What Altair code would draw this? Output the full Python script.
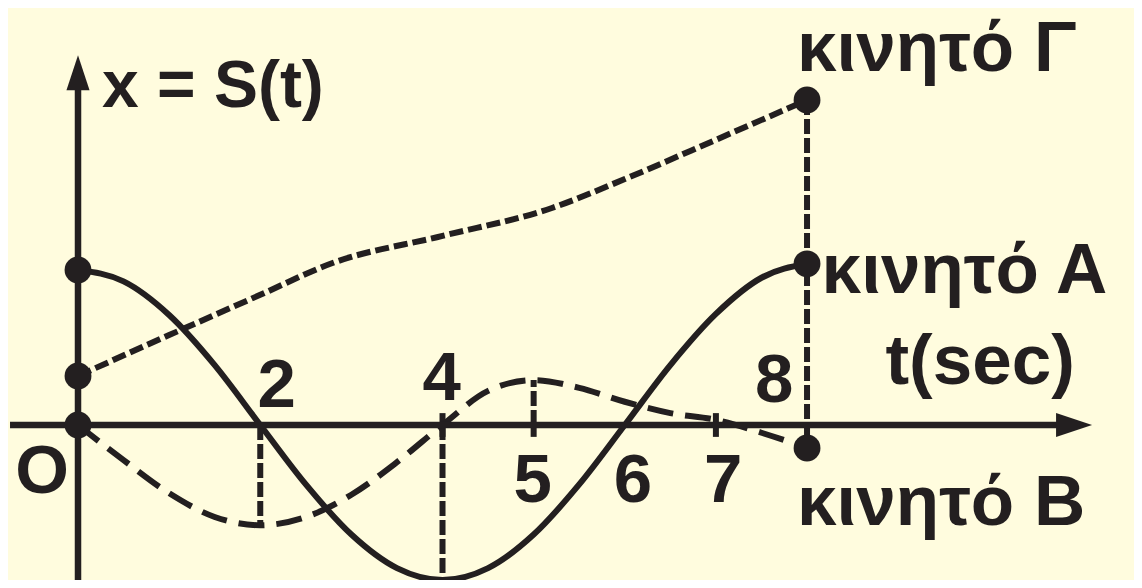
import altair as alt
import pandas as pd

# ---------------- data ----------------
t_samples = [0, 0.5, 1, 1.5, 2, 2.5, 3, 3.5, 4, 4.5, 5, 5.5, 6, 6.5, 7, 7.5, 8]
pos_A = [3.0, 2.78, 2.13, 1.16, 0.0, -1.15, -2.12, -2.77, -3.0, -2.77, -2.12, -1.15, 0.0, 1.16, 2.15, 2.85, 3.12]
pos_B = [0.0, -0.68, -1.32, -1.78, -1.94, -1.78, -1.35, -0.72, 0.0, 0.66, 0.87, 0.72, 0.45, 0.23, 0.1, -0.15, -0.445]

t_G = [0, 1, 2, 2.8, 4, 5.2, 6, 7, 8]
pos_G = [0.95, 1.74, 2.52, 3.14, 3.66, 4.2, 4.76, 5.52, 6.29]

dot_t = [0, 0, 0, 8, 8, 8]
dot_v = [3.0, 0.95, 0.0, 6.29, 3.12, -0.445]

drop_t = [2, 4, 5, 8]
drop_from = [0, 0, 0, 6.29]
drop_to = [-1.94, -3.0, 0.87, -0.445]

tick_t = [4, 5, 7]
tick_top = [0.23, 0.0, 0.23]
tick_bot = [-0.23, -0.23, -0.23]

label_text = ["κινητό Γ", "κινητό Α", "κινητό Β", "t(sec)"]
label_t = [7.89, 8.16, 7.89, 8.86]
label_v = [6.86, 2.555, -1.935, 0.79]

ylabel_text = ["x = S(t)"]
ylabel_t = [0.263]
ylabel_v = [6.15]

num_text = ["2", "4", "8", "5", "6", "7", "O"]
num_t = [2.18, 3.99, 7.64, 4.99, 6.09, 7.08, -0.395]
num_v = [0.348, 0.484, 0.445, -1.49, -1.49, -1.49, -1.316]

haxis_t = [-0.746, 10.78]
vaxis_v = [-3.3, 6.5]

# ---------------- styling ----------------
INK = "#231F20"
BG = "#FFFCDE"
FONT = "Liberation Sans"

XS = alt.Scale(domain=[-0.7682, 11.588], nice=False, zero=False)
YS = alt.Scale(domain=[-3.0, 8.071], nice=False, zero=False)


def X(f="t"):
    return alt.X(f + ":Q", scale=XS, axis=None)


def Y(f="v"):
    return alt.Y(f + ":Q", scale=YS, axis=None)


df_A = pd.DataFrame({"t": t_samples, "v": pos_A})
df_B = pd.DataFrame({"t": t_samples, "v": pos_B})
df_G = pd.DataFrame({"t": t_G, "v": pos_G})
df_dots = pd.DataFrame({"t": dot_t, "v": dot_v})
df_drop = pd.DataFrame({"t": drop_t, "v": drop_from, "v2": drop_to})
df_tick = pd.DataFrame({"t": tick_t, "v": tick_top, "v2": tick_bot})
df_lab = pd.DataFrame({"t": label_t, "v": label_v, "txt": label_text})
df_ylab = pd.DataFrame({"t": ylabel_t, "v": ylabel_v, "txt": ylabel_text})
df_num = pd.DataFrame({"t": num_t, "v": num_v, "txt": num_text})
df_hax = pd.DataFrame({"t": [haxis_t[0]], "t2": [haxis_t[1]], "v": [0.0]})
df_vax = pd.DataFrame({"t": [0.0], "v": [vaxis_v[0]], "v2": [vaxis_v[1]]})
df_harrow = pd.DataFrame({"t": [10.93], "v": [0.0]})
df_varrow = pd.DataFrame({"t": [0.0], "v": [6.82]})

curve_A = alt.Chart(df_A).mark_line(color=INK, strokeWidth=6, interpolate="monotone").encode(x=X(), y=Y())
curve_B = alt.Chart(df_B).mark_line(color=INK, strokeWidth=6, interpolate="monotone",
                                    strokeDash=[26, 12]).encode(x=X(), y=Y())
curve_G = alt.Chart(df_G).mark_line(color=INK, strokeWidth=6, interpolate="monotone",
                                    strokeDash=[14, 5]).encode(x=X(), y=Y())

drops = alt.Chart(df_drop).mark_rule(color=INK, strokeWidth=6, strokeDash=[15, 4]).encode(
    x=X(), y=Y(), y2="v2:Q")
ticks = alt.Chart(df_tick).mark_rule(color=INK, strokeWidth=6).encode(x=X(), y=Y(), y2="v2:Q")

h_axis = alt.Chart(df_hax).mark_rule(color=INK, strokeWidth=6.5).encode(x=X(), x2="t2:Q", y=Y())
v_axis = alt.Chart(df_vax).mark_rule(color=INK, strokeWidth=6.5).encode(x=X(), y=Y(), y2="v2:Q")

h_arrow = alt.Chart(df_harrow).mark_point(
    shape="M1,0L-1,-0.667L-1,0.667Z", size=1296, filled=True, color=INK, opacity=1, strokeWidth=0
).encode(x=X(), y=Y())
v_arrow = alt.Chart(df_varrow).mark_point(
    shape="M0,-1L0.66,1L-0.66,1Z", size=1225, filled=True, color=INK, opacity=1, strokeWidth=0
).encode(x=X(), y=Y())

dots = alt.Chart(df_dots).mark_circle(size=720, color=INK, opacity=1).encode(x=X(), y=Y())

labels = alt.Chart(df_lab).mark_text(
    font=FONT, fontWeight="bold", fontSize=71, color=INK, align="left", baseline="alphabetic"
).encode(x=X(), y=Y(), text="txt:N")
ylabel = alt.Chart(df_ylab).mark_text(
    font=FONT, fontWeight="bold", fontSize=66, color=INK, align="left", baseline="alphabetic"
).encode(x=X(), y=Y(), text="txt:N")
nums = alt.Chart(df_num).mark_text(
    font=FONT, fontWeight="bold", fontSize=69, color=INK, align="center", baseline="alphabetic"
).encode(x=X(), y=Y(), text="txt:N")

chart = alt.layer(
    curve_G, curve_B, curve_A, drops, ticks, h_axis, v_axis, h_arrow, v_arrow, dots,
    labels, ylabel, nums
).properties(
    width=1126, height=572, autosize="none", padding=0, background=BG
).configure_view(stroke=None)

chart.save("out.html", embed_options={"renderer": "svg", "actions": False})
